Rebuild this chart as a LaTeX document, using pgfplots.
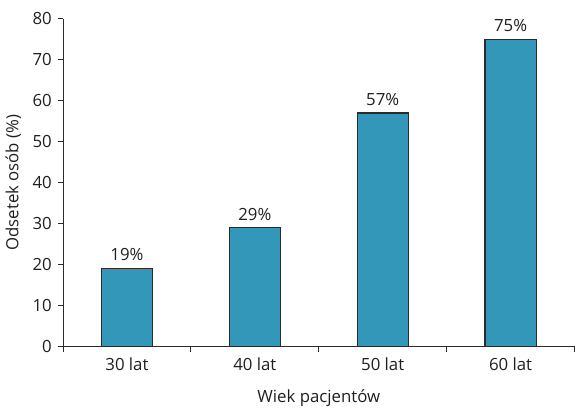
\documentclass[border=0pt]{standalone}
\usepackage{pgfplots}
\pgfplotsset{compat=1.18}
\usepackage{fontspec}
\setmainfont{Open Sans}
\definecolor{barblue}{HTML}{3397BA}
\definecolor{axisgray}{HTML}{2B2B2B}
\newcommand{\lbl}{\fontsize{12.5}{15}\selectfont}
\begin{document}
\lbl
\begin{tikzpicture}
\begin{axis}[
    scale only axis,
    width=381pt, height=244pt,
    ybar, bar width=0.4,
    xmin=-0.5, xmax=3.5,
    ymin=0, ymax=80,
    ytick={0,10,...,80},
    xtick={0,1,2,3},
    xticklabels={30 lat,40 lat,50 lat,60 lat},
    minor xtick={-0.5,0.5,1.5,2.5,3.5},
    major x tick style={draw=none},
    tick align=outside,
    major tick length=4pt,
    minor tick length=4pt,
    tick style={axisgray, line width=0.7pt},
    axis x line*=bottom,
    axis y line*=left,
    axis line style={axisgray, line width=0.7pt, -},
    /pgf/number format/assume math mode=true,
    ticklabel style={font=\lbl, text=black!88},
    xlabel={Wiek pacjentów},
    ylabel={Odsetek osób (\%)},
    label style={font=\lbl, text=black!88},
    xlabel style={yshift=-6pt},
    ylabel style={yshift=0pt},
    nodes near coords={\pgfmathprintnumber{\pgfplotspointmeta}\%},
    every node near coord/.append style={font=\lbl, text=black!88, yshift=1pt},
]
\addplot[fill=barblue, draw=axisgray, line width=0.8pt] coordinates {
    (0,19) (1,29) (2,57) (3,75)
};
\end{axis}
\path ([yshift=14pt]current axis.north west);
\end{tikzpicture}
\end{document}
